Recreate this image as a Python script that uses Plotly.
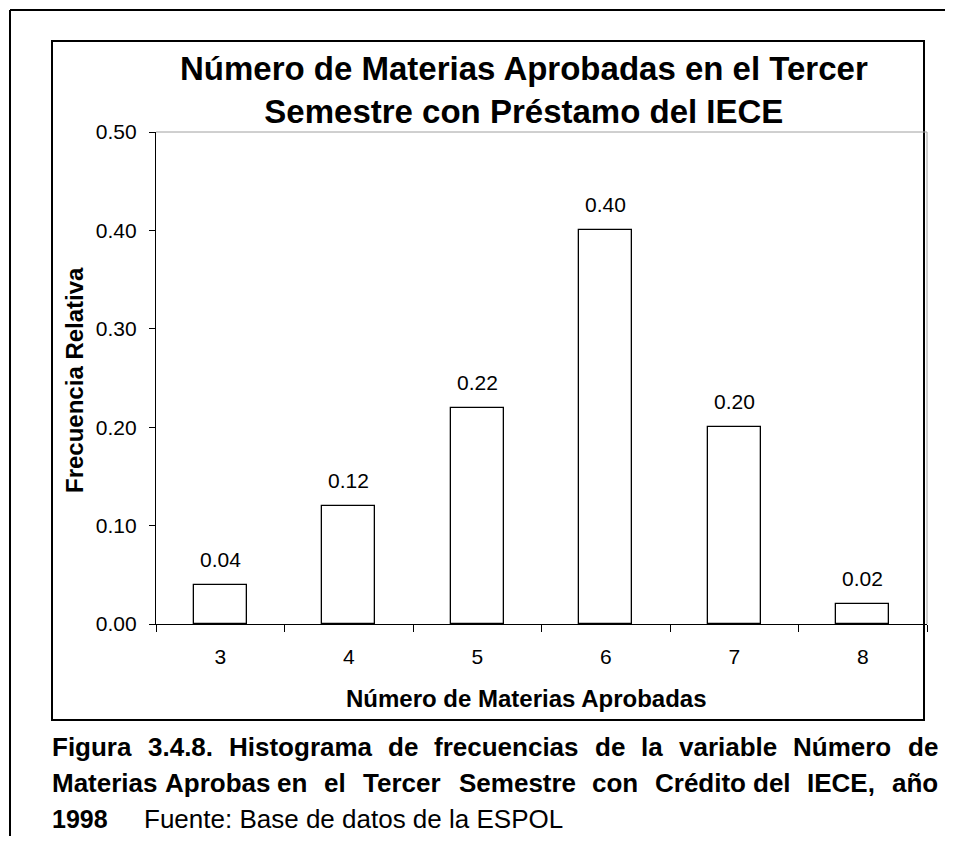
import plotly.graph_objects as go

# ---------------- data ----------------
categories = ["3", "4", "5", "6", "7", "8"]
rel_freq = [0.04, 0.12, 0.22, 0.40, 0.20, 0.02]
y_tick_vals = [0.0, 0.1, 0.2, 0.3, 0.4, 0.5]

title_text = "Número de Materias Aprobadas en el Tercer<br>Semestre con Préstamo del IECE"
x_title = "Número de Materias Aprobadas"
y_title = "Frecuencia Relativa"
caption_lines = [
    "Figura 3.4.8. Histograma de frecuencias de la variable Número de",
    "Materias Aprobas en el Tercer Semestre con Crédito del IECE, año",
]
# relative stretch of each inter-word gap (justified text, 0 = normal space)
caption_gap_weights = [
    [1, 1, 1, 1, 1, 1, 1, 1, 1],
    [0, 0, 1, 1, 1, 1, 1, 0, 1, 1],
]
caption_year = "1998"
caption_source = "Fuente: Base de datos de la ESPOL"

# ---------------- layout geometry (page pixel coordinates) ----------------
OFF = 8                      # default body margin of the html page
W, H = 937, 828              # figure size (fits the window with body margins)
L, R, T, B = 156, 927, 132, 624   # plot area in page pixels
FONT = "Arial, 'Liberation Sans', sans-serif"


def px(x):
    return (x - L) / (R - L)


def py(y):
    return (B - y) / (B - T)


# Arial Bold advance widths (per 1000 em) for justification
BOLD_W = {" ": 278, ",": 278, ".": 278, ":": 333}
for d in "0123456789":
    BOLD_W[d] = 556
BOLD_W.update({"A": 722, "B": 722, "C": 722, "D": 722, "E": 667, "F": 611, "G": 778,
               "H": 722, "I": 278, "L": 611, "M": 833, "N": 722, "O": 778, "P": 667,
               "S": 667, "T": 611, "a": 556, "b": 611, "c": 556, "d": 611, "e": 556,
               "f": 333, "g": 611, "h": 611, "i": 278, "l": 278, "m": 889, "n": 611,
               "o": 611, "p": 611, "r": 389, "s": 556, "t": 333, "u": 611, "v": 556,
               "á": 556, "é": 556, "í": 278, "ñ": 611, "ó": 611, "ú": 611})


def word_w(word, size):
    return sum(BOLD_W.get(c, 556) for c in word) * size / 1000.0


fig = go.Figure()
fig.add_trace(go.Bar(
    x=categories, y=rel_freq, width=0.41,
    marker=dict(color="white", line=dict(color="black", width=1.3)),
    showlegend=False, hoverinfo="skip",
))

annotations = []
# bar value labels
for i, v in enumerate(rel_freq):
    annotations.append(dict(x=i, y=v, xref="x", yref="y", text=f"{v:.2f}",
                            showarrow=False, yanchor="bottom", yshift=12,
                            font=dict(family=FONT, size=21, color="black")))

# title
annotations.append(dict(x=px(524), y=py(90), xref="paper", yref="paper",
                        text=title_text, showarrow=False, xanchor="center", yanchor="middle",
                        font=dict(family=FONT, size=33, color="black", weight="bold")))
# axis titles
annotations.append(dict(x=px(526), y=py(698), xref="paper", yref="paper",
                        text=x_title, showarrow=False, xanchor="center", yanchor="middle",
                        font=dict(family=FONT, size=24, color="black", weight="bold")))
annotations.append(dict(x=px(74), y=py(380), xref="paper", yref="paper",
                        text=y_title, showarrow=False, textangle=-90,
                        xanchor="center", yanchor="middle",
                        font=dict(family=FONT, size=24, color="black", weight="bold")))

# justified caption lines
CAP_SIZE = 26
cap_left, cap_right = 50, 936
cap_centers = [747, 783]
space_w = word_w(" ", CAP_SIZE)
for line, yc, wts in zip(caption_lines, cap_centers, caption_gap_weights):
    words = line.split(" ")
    widths = [word_w(w, CAP_SIZE) for w in words]
    n_small = sum(1 for g in wts if g == 0)
    extra = (cap_right - cap_left - sum(widths) - n_small * space_w) / sum(wts)
    xcur = cap_left
    for k, (w, ww) in enumerate(zip(words, widths)):
        annotations.append(dict(x=px(xcur), y=py(yc), xref="paper", yref="paper",
                                text=w, showarrow=False, xanchor="left", yanchor="middle",
                                font=dict(family=FONT, size=CAP_SIZE, color="black",
                                          weight="bold")))
        if k < len(wts):
            xcur += ww + (space_w if wts[k] == 0 else extra * wts[k])
annotations.append(dict(x=px(cap_left), y=py(819), xref="paper", yref="paper",
                        text=caption_year, showarrow=False, xanchor="left", yanchor="middle",
                        font=dict(family=FONT, size=25, color="black", weight="bold")))
annotations.append(dict(x=px(142), y=py(819), xref="paper", yref="paper",
                        text=caption_source, showarrow=False, xanchor="left", yanchor="middle",
                        font=dict(family=FONT, size=26, color="black")))

shapes = [
    # outer page frame (top and left)
    dict(type="line", xref="paper", yref="paper", x0=px(10), x1=px(960), y0=py(10), y1=py(10),
         line=dict(color="black", width=2)),
    dict(type="line", xref="paper", yref="paper", x0=px(10), x1=px(10), y0=py(10), y1=py(850),
         line=dict(color="black", width=2)),
    # chart frame
    dict(type="rect", xref="paper", yref="paper", x0=px(52), x1=px(924), y0=py(41), y1=py(720),
         line=dict(color="black", width=2), layer="below"),
    # plot area top/right edges (grey)
    dict(type="line", xref="paper", yref="paper", x0=0, x1=1, y0=1, y1=1,
         line=dict(color="#a0a0a0", width=1)),
    dict(type="line", xref="paper", yref="paper", x0=1, x1=1, y0=0, y1=1,
         line=dict(color="#a0a0a0", width=1)),
]

fig.update_layout(
    width=W, height=H,
    margin=dict(l=L - OFF, r=W - (R - OFF), t=T - OFF, b=H - (B - OFF)),
    paper_bgcolor="white", plot_bgcolor="white",
    annotations=annotations, shapes=shapes,
    font=dict(family=FONT, color="black"),
    xaxis=dict(type="category", tickson="boundaries", ticks="outside", ticklen=7,
               tickwidth=1.3, tickcolor="black", showline=True, linecolor="black",
               linewidth=1.3, showgrid=False, zeroline=False,
               tickfont=dict(family=FONT, size=21, color="black"),
               ticklabelstandoff=14, fixedrange=True),
    yaxis=dict(range=[0, 0.5], tickvals=y_tick_vals, tickformat=".2f", ticks="outside",
               ticklen=6, tickwidth=1.3, tickcolor="black", showline=True,
               linecolor="black", linewidth=1.3, showgrid=False, zeroline=False,
               tickfont=dict(family=FONT, size=21, color="black"),
               ticklabelstandoff=8, fixedrange=True),
    bargap=0,
)

fig.write_html("out.html")
